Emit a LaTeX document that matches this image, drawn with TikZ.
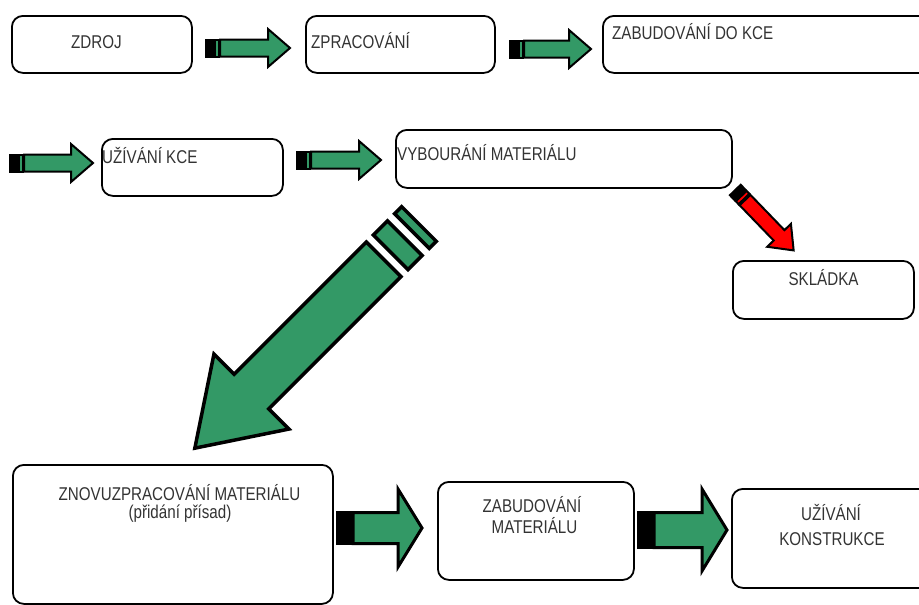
\documentclass[tikz,border=0pt]{standalone}
\usepackage{fontspec}
\newfontfamily\nar[FakeStretch=0.82]{Liberation Sans}
\newcommand\lblfont{\nar\fontsize{18.5}{22}\selectfont}
\definecolor{agreen}{RGB}{51,153,102}
\definecolor{ared}{RGB}{255,0,0}
\tikzset{
  box/.style={draw=black, line width=1.8pt, rounded corners=11pt, fill=white, inner sep=0pt, anchor=north west},
  lbl/.style={text=black!80, inner sep=0pt, font=\lblfont},
  arr/.style={draw=black, line join=miter, miter limit=12},
  smallarrow/.style={stripe/.style={arr, line width=2pt}, body/.style={arr, line width=2pt}},
  bigarrow/.style={stripe/.style={arr, line width=3.5pt}, body/.style={arr, line width=3.5pt}},
  blockarrow/.style={stripe/.style={arr, line width=3pt}, body/.style={arr, line width=3pt}}
}
% #1 style, #2 tail, #3 angle, #4 length, #5 head length, #6 head half width,
% #7 shaft half width, #8 stripes (from/to/fill,...), #9 body start, fill colour via \bodyfill
\newcommand\sarrow[9]{%
  \begin{scope}[shift={(#2)}, rotate=#3, #1]
    \foreach \p/\q/\f in {#8} {\draw[stripe, fill=\f] (\p,-#7) rectangle (\q,#7);}
    \draw[body, fill=\bodyfill] (#9,-#7) -- (#4-#5,-#7) -- (#4-#5,-#6) -- (#4,0) -- (#4-#5,#6) -- (#4-#5,#7) -- (#9,#7) -- cycle;
  \end{scope}}
\begin{document}
\begin{tikzpicture}[x=1pt, y=-1pt]
\useasboundingbox (0,0) rectangle (919,605);

% boxes
\node[box, minimum width=180pt, minimum height=57pt] (zdroj) at (11,15) {};
\node[box, minimum width=189pt, minimum height=57pt] (zprac) at (305,15) {};
\node[box, minimum width=340pt, minimum height=57pt] (zabud) at (602,15) {};
\node[box, minimum width=181pt, minimum height=57pt] (uziv) at (101,138) {};
\node[box, minimum width=336pt, minimum height=58pt] (vyb) at (395,129) {};
\node[box, minimum width=181pt, minimum height=58pt] (skl) at (732,260) {};
\node[box, minimum width=320pt, minimum height=139pt] (znovu) at (12,464) {};
\node[box, minimum width=196pt, minimum height=98pt] (zabmat) at (437,481) {};
\node[box, minimum width=210pt, minimum height=99pt] (uzkon) at (731,488) {};

% labels
\node[lbl, anchor=base west] (t1) at (71,48) {ZDROJ};
\node[lbl, anchor=base west] (t2) at (311,48) {ZPRACOVÁNÍ};
\node[lbl, anchor=base west] (t3) at (612,39) {ZABUDOVÁNÍ DO KCE};
\node[lbl, anchor=base west] (t4) at (102,163) {UŽÍVÁNÍ KCE};
\node[lbl, anchor=base west] (t5) at (397,160) {VYBOURÁNÍ MATERIÁLU};
\node[lbl, anchor=base] (t6) at (823.5,285) {SKLÁDKA};
\node[lbl, anchor=base] (t7a) at (179.5,500) {ZNOVUZPRACOVÁNÍ MATERIÁLU};
\node[lbl, anchor=base] (t7b) at (180,518) {(přidání přísad)};
\node[lbl, anchor=base] (t8a) at (532,512) {ZABUDOVÁNÍ};
\node[lbl, anchor=base] (t8b) at (534.5,533) {MATERIÁLU};
\node[lbl, anchor=base] (t9a) at (831,520) {UŽÍVÁNÍ};
\node[lbl, anchor=base] (t9b) at (832,545) {KONSTRUKCE};

% block arrows
\def\bodyfill{agreen}
\sarrow{smallarrow}{206,48}{0}{84}{22}{19}{8.5}{0/7/black,8.5/12.5/agreen}{14}
\sarrow{smallarrow}{510,49}{0}{81}{22}{19}{8.5}{0/7/black,8.5/12.5/agreen}{14}
\sarrow{smallarrow}{10,163}{0}{83}{22}{19}{8.5}{0/7/black,8.5/12.5/agreen}{14}
\sarrow{smallarrow}{297,160}{0}{84}{22}{19}{8.5}{0/7/black,8.5/12.5/agreen}{14}
\sarrow{bigarrow}{419,224}{-135}{317}{80}{53}{24.5}{0/10/agreen,20/40/agreen}{50}
\sarrow{blockarrow}{337,528}{0}{85}{24}{39}{15.5}{0/16/black}{16}
\sarrow{blockarrow}{638,530}{0}{89}{25}{41}{17.5}{0/16/black}{16}
\def\bodyfill{ared}
\sarrow{smallarrow}{735.3,190}{-46}{84}{21}{16.5}{7.5}{0/7/black,8.5/12.5/ared}{14}
\end{tikzpicture}
\end{document}
